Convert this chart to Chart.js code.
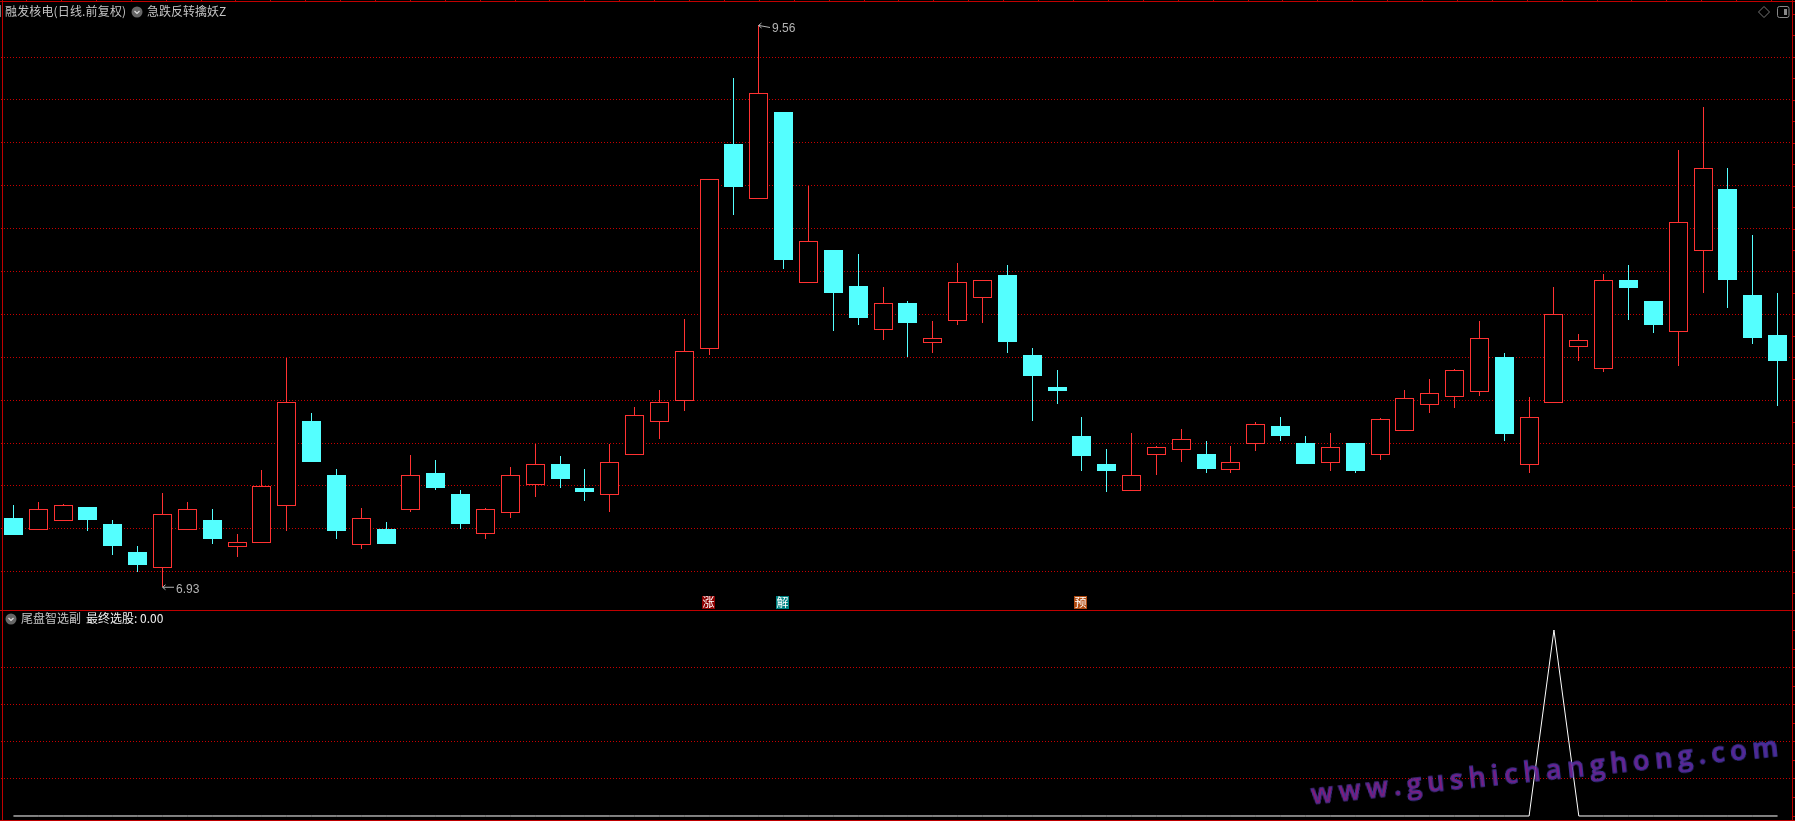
<!DOCTYPE html>
<html lang="zh">
<head>
<meta charset="utf-8">
<title>融发核电</title>
<script src="https://cdn.jsdelivr.net/npm/chart.js@4"></script>
<style>
  html, body { margin: 0; width: 1795px; height: 821px; background: #000; overflow: hidden; }
  canvas { position: absolute; left: 0; }
  #kline { top: 0; }
  #indicator { top: 610px; }
  .txt { position: absolute; font: 12px/14px "Noto Sans CJK SC", sans-serif; color: #c4c4c4; white-space: pre; }
  .icon { position: absolute; }
  #watermark {
    position: absolute; left: 1311px; top: 777px; transform-origin: left center; transform: rotate(-5.9deg);
    font: 600 27px/34px "Open Sans", sans-serif; letter-spacing: 5.65px; white-space: pre;
    background: linear-gradient(90deg, #a01a80, #7a24a0 70%, #5c2ca6);
    -webkit-background-clip: text; background-clip: text; color: transparent;
    -webkit-text-stroke: 1px #3c3ca8; opacity: .9;
  }
</style>
</head>
<body>
<canvas id="kline" width="1795" height="610"></canvas>
<canvas id="indicator" width="1795" height="211"></canvas>

<span class="txt" style="left:5px;top:4px;letter-spacing:.15px">融发核电(日线.前复权)</span>
<svg class="icon" style="left:131px;top:6px" width="12" height="12"><circle cx="6" cy="6" r="5.5" fill="#666"/><path d="M3.5 5 L6 7.5 L8.5 5" fill="none" stroke="#ddd" stroke-width="1.2"/></svg>
<span class="txt" style="left:147px;top:4px">急跌反转擒妖Z</span>
<svg class="icon" style="left:1758px;top:6px" width="12" height="12"><path d="M6 .5 L11.5 6 L6 11.5 L.5 6 Z" fill="none" stroke="#777"/></svg>
<svg class="icon" style="left:1777px;top:6px" width="13" height="12"><rect x=".5" y=".5" width="11.5" height="11" rx="2" fill="none" stroke="#888"/><rect x="7" y="3" width="3" height="6" fill="#888"/></svg>

<svg class="icon" style="left:5px;top:613px" width="12" height="12"><circle cx="6" cy="6" r="5.5" fill="#666"/><path d="M3.5 5 L6 7.5 L8.5 5" fill="none" stroke="#ddd" stroke-width="1.2"/></svg>
<span class="txt" style="left:21px;top:611px">尾盘智选副</span>
<span class="txt" style="left:86px;top:611px;color:#f0f0f0">最终选股: 0.00</span>
<div id="watermark">www.gushichanghong.com</div>

<script>
const opens = [7.252,7.197,7.239,7.303,7.224,7.093,7.019,7.197,7.243,7.118,7.136,7.310,7.706,7.453,7.127,7.200,7.291,7.463,7.364,7.178,7.277,7.408,7.505,7.392,7.361,7.548,7.703,7.801,8.045,9.003,8.747,9.153,8.354,8.507,8.338,8.134,8.259,8.073,8.176,8.283,8.390,8.015,7.865,7.636,7.505,7.380,7.548,7.572,7.552,7.478,7.600,7.683,7.603,7.511,7.603,7.548,7.661,7.782,7.820,7.843,8.006,7.501,7.792,8.054,7.951,8.366,8.268,8.124,8.503,8.792,8.296,8.109];
const closes = [7.172,7.293,7.311,7.243,7.121,7.032,7.269,7.293,7.154,7.138,7.400,7.794,7.514,7.191,7.251,7.130,7.452,7.392,7.224,7.293,7.452,7.503,7.435,7.374,7.513,7.733,7.794,8.032,8.838,8.802,9.240,8.460,8.547,8.305,8.188,8.257,8.165,8.093,8.355,8.365,8.076,7.917,7.847,7.542,7.472,7.452,7.583,7.620,7.481,7.513,7.691,7.636,7.505,7.583,7.472,7.714,7.812,7.836,7.943,8.093,7.645,7.723,8.206,8.084,8.365,8.329,8.156,8.636,8.889,8.366,8.095,7.987];
const highs = [7.313,7.327,7.318,7.303,7.243,7.121,7.368,7.327,7.294,7.177,7.477,8.001,7.744,7.481,7.299,7.233,7.547,7.523,7.383,7.299,7.491,7.598,7.542,7.481,7.598,7.772,7.851,8.184,8.838,9.312,9.560,9.153,8.808,8.507,8.488,8.333,8.268,8.174,8.446,8.365,8.436,8.048,7.945,7.725,7.575,7.650,7.589,7.669,7.612,7.589,7.701,7.725,7.636,7.650,7.603,7.720,7.851,7.903,7.950,8.174,8.024,7.818,8.333,8.113,8.394,8.436,8.268,8.975,9.176,8.891,8.577,8.305];
const lows = [7.172,7.197,7.239,7.193,7.079,6.999,6.930,7.197,7.130,7.069,7.136,7.193,7.514,7.154,7.105,7.130,7.281,7.383,7.200,7.154,7.252,7.350,7.392,7.331,7.280,7.548,7.622,7.753,8.016,8.670,8.747,8.418,8.354,8.127,8.156,8.085,8.006,8.024,8.156,8.165,8.024,7.706,7.786,7.472,7.374,7.380,7.453,7.514,7.463,7.463,7.566,7.612,7.505,7.472,7.463,7.523,7.661,7.744,7.767,7.823,7.612,7.463,7.792,7.987,7.935,8.179,8.118,7.964,8.305,8.235,8.067,7.776];
const priceGrid = [9.41,9.209,9.008,8.807,8.607,8.406,8.205,8.004,7.803,7.603,7.402,7.201,7.0];
const signalDays = [28,31,43];
const signalTexts = ["涨","解","预"];
const finalPick = [0,0,0,0,0,0,0,0,0,0,0,0,0,0,0,0,0,0,0,0,0,0,0,0,0,0,0,0,0,0,0,0,0,0,0,0,0,0,0,0,0,0,0,0,0,0,0,0,0,0,0,0,0,0,0,0,0,0,0,0,0,0,1,0,0,0,0,0,0,0,0,0];
const pickGrid = [0.2,0.4,0.6,0.8];

const days = opens.map((_, i) => i + 1);
const RED = "#ff3232";
const CYAN = "#54ffff";
const FRAME = "#c00000";
const DOTS = "#c80000";
const signalFills = ["#8c0000", "#008484", "#b04a10"];

// pega las velas a pixeles enteros, como el grafico original
const snapBars = {
  id: "snapBars",
  afterDatasetsUpdate(chart) {
    chart.getSortedVisibleDatasetMetas().forEach(meta => {
      meta.data.forEach(el => {
        el.x = Math.floor(el.x) + 0.5;
        el.y = Math.round(el.y);
        el.base = Math.round(el.base);
      });
    });
  }
};

// marco rojo y marcas cortas del borde
const framePlugin = (top, bottom, rightTicks) => ({
  id: "frame",
  afterDraw(chart) {
    const ctx = chart.ctx;
    ctx.save();
    ctx.fillStyle = FRAME;
    ctx.fillRect(2, 0, 1, chart.height);
    ctx.fillRect(1792, 0, 1, chart.height);
    if (top !== null) ctx.fillRect(0, top, 1795, 1);
    if (bottom !== null) ctx.fillRect(0, bottom, 1795, 1);
    rightTicks.forEach(y => ctx.fillRect(1792, Math.round(y), 3, 1));
    ctx.restore();
  }
});

const arrowNote = (ctx, x, y, text, dy, textDy) => {
  ctx.strokeStyle = "#b4b4b4";
  ctx.fillStyle = "#b4b4b4";
  ctx.lineWidth = 1;
  ctx.beginPath();
  ctx.moveTo(x + 1, y - dy + 0.5);
  ctx.lineTo(x + 12, y + 0.5);
  ctx.moveTo(x + 3.5, y - dy - 2);
  ctx.lineTo(x + 0.5, y - dy + 0.5);
  ctx.lineTo(x + 3.5, y - dy + 3);
  ctx.stroke();
  ctx.font = '12px "Liberation Sans", sans-serif';
  ctx.textAlign = "left";
  ctx.textBaseline = "middle";
  ctx.fillText(text, x + 14, y + textDy);
};

const notesPlugin = {
  id: "notes",
  afterDraw(chart) {
    const { ctx, scales } = chart;
    ctx.save();
    const top = highs.indexOf(Math.max(...highs));
    const bottom = lows.indexOf(Math.min(...lows));
    arrowNote(ctx, Math.floor(scales.x.getPixelForValue(top)), scales.y.getPixelForValue(highs[top]) + 2, highs[top].toFixed(2), 2, 2);
    arrowNote(ctx, Math.floor(scales.x.getPixelForValue(bottom)), scales.y.getPixelForValue(lows[bottom]), lows[bottom].toFixed(2), 0, 3);

    // senales abajo del panel
    ctx.font = '12px "Noto Sans CJK SC", sans-serif';
    ctx.textAlign = "center";
    ctx.textBaseline = "middle";
    signalDays.forEach((d, i) => {
      const x = Math.floor(scales.x.getPixelForValue(d));
      ctx.fillStyle = signalFills[i];
      ctx.fillRect(x - 7, 596, 13, 13);
      ctx.fillStyle = "#fff";
      ctx.fillText(signalTexts[i], x - 0.5, 602.5);
    });

    ctx.fillStyle = "#777";
    ctx.fillRect(0, 5, 1, 12);
    ctx.fillStyle = FRAME;
    for (let x = 26; x < 1790; x += 34.9) ctx.fillRect(Math.round(x), 0, 1, 1);
    ctx.restore();
  }
};

const hiddenX = { display: false, offset: true, grid: { display: false } };
const chartPadding = { left: 1, right: 5, top: 0, bottom: 0 };
const quiet = { legend: { display: false }, tooltip: { enabled: false } };

const gridY = (min, max, values) => ({
  min, max,
  afterBuildTicks: scale => { scale.ticks = values.map(value => ({ value })); },
  ticks: { display: false },
  border: { display: false, dash: [1, 2] },
  grid: { color: DOTS, drawTicks: false, lineWidth: 1 }
});

new Chart(document.getElementById("kline"), {
  type: "bar",
  data: {
    labels: days,
    datasets: [
      {
        label: "实体",
        data: opens.map((o, i) => [o, closes[i]]),
        grouped: false,
        barThickness: 19,
        borderWidth: 1,
        borderSkipped: false,
        inflateAmount: 0,
        backgroundColor: opens.map((o, i) => closes[i] >= o ? "#000" : CYAN),
        borderColor: opens.map((o, i) => closes[i] >= o ? RED : CYAN)
      },
      {
        label: "影线",
        data: lows.map((l, i) => [l, highs[i]]),
        grouped: false,
        barThickness: 1,
        borderWidth: 0,
        inflateAmount: 0,
        backgroundColor: opens.map((o, i) => closes[i] >= o ? RED : CYAN)
      }
    ]
  },
  options: {
    responsive: false,
    animation: false,
    layout: { padding: chartPadding },
    plugins: quiet,
    scales: { x: hiddenX, y: gridY(6.8212, 9.677, priceGrid) }
  },
  plugins: [snapBars, framePlugin(1, 610, Array.from({ length: 28 }, (_, i) => 14 + i * 21.45)), notesPlugin]
});

new Chart(document.getElementById("indicator"), {
  type: "line",
  data: {
    labels: days,
    datasets: [{
      label: "最终选股",
      data: finalPick,
      borderColor: "#fff",
      borderWidth: 1,
      pointRadius: 0,
      tension: 0
    }]
  },
  options: {
    responsive: false,
    animation: false,
    layout: { padding: chartPadding },
    plugins: quiet,
    scales: { x: hiddenX, y: gridY(-0.0269, 1.1075, pickGrid) }
  },
  plugins: [framePlugin(0, 210, Array.from({ length: 11 }, (_, i) => 20 + i * 18.55))]
});
</script>
</body>
</html>
